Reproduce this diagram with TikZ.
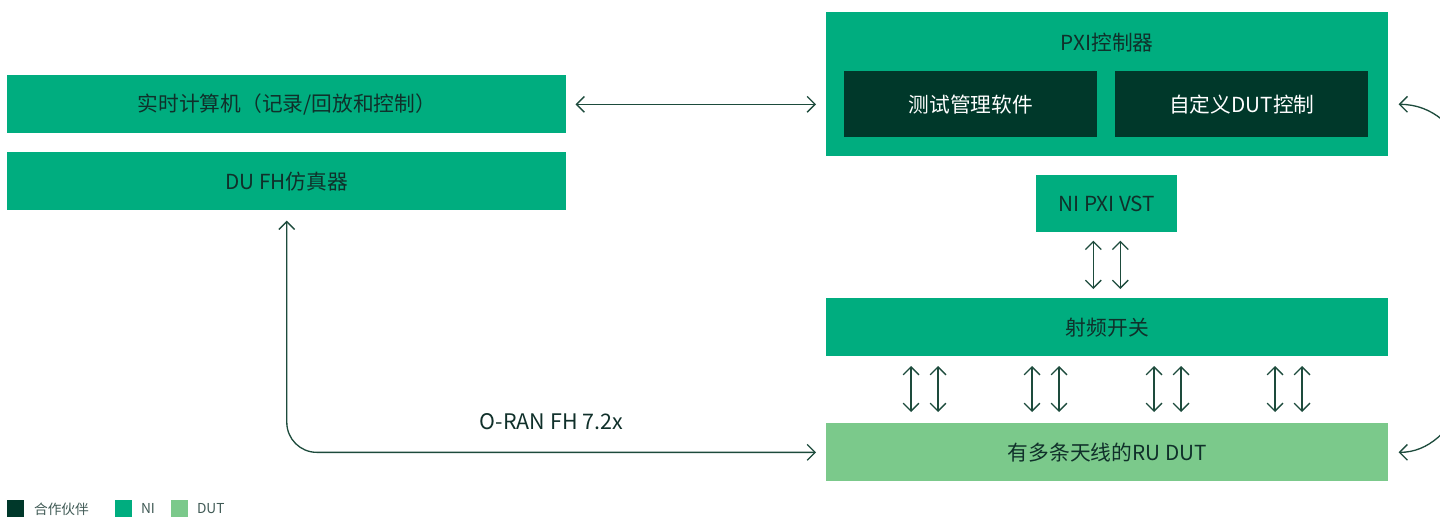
\documentclass[tikz,border=0pt]{standalone}
\usepackage{fontspec}
\setmainfont{Noto Sans CJK SC}
\usetikzlibrary{arrows.meta,positioning,calc}
\definecolor{cni}{HTML}{00AD7F}
\definecolor{cpartner}{HTML}{00382A}
\definecolor{cdut}{HTML}{7BC98B}
\definecolor{cline}{HTML}{1D4B3C}
\definecolor{ctext}{HTML}{10302A}
\tikzset{
  box/.style={anchor=north west,inner sep=0pt,align=center,text=ctext,
    font=\fontsize{11.8}{14}\selectfont},
  dbl/.style={{Straight Barb[length=4.5pt,width=9pt]}-{Straight Barb[length=4.5pt,width=9pt]},
    draw=cline,line width=0.75pt},
  >=Stealth
}
\begin{document}
\begin{tikzpicture}[x=0.02cm,y=-0.02cm,
      b/.style={box,fill=cni,minimum width=11.18cm,minimum height=1.16cm},
      p/.style={box,fill=cpartner,text=white,minimum width=5.06cm,minimum height=1.32cm},
      key/.style={minimum size=0.34cm,inner sep=0pt,anchor=north west}]
    \useasboundingbox (0,0) rectangle (1440,518);
    \node[b] (comp) at (7,75) {实时计算机（记录/回放和控制）};
    \node[b] (duemu) at (7,152) {DU FH仿真器};
    \node[b,minimum width=11.24cm,minimum height=2.88cm] (pxi) at (826,12) {};
    \node[box] at ($(pxi.north)+(0,31)$) [anchor=center] {PXI控制器};
    \node[p] (tms) at (844,71) {测试管理软件};
    \node[p] (dutctl) at (1115,71) {自定义DUT控制};
    \node[box,fill=cni,minimum width=2.82cm,minimum height=1.14cm] (vst) at (1036,175) {NI PXI VST};
    \node[b,minimum width=11.24cm] (rfsw) at (826,298) {射频开关};
    \node[b,fill=cdut,minimum width=11.24cm] (rudut) at (826,423) {有多条天线的RU DUT};
    % connectors
    \draw[dbl] ([xshift=0.18cm]comp.east) -- ([xshift=-0.2cm]comp.east -| pxi.west);
    \foreach \dx in {-13.5,13.5}
      \draw[dbl] ([xshift=\dx*0.02cm,yshift=-0.16cm]vst.south) -- ([xshift=\dx*0.02cm,yshift=0.18cm]vst.south |- rfsw.north);
    \foreach \x in {911,938,1032,1059,1154,1181,1275,1302}
      \draw[dbl] (\x,366) -- (\x,412);
    \draw[dbl,rounded corners=0.6cm] ([yshift=-0.2cm]duemu.south) |- ([xshift=-0.2cm]rudut.west)
      node[pos=0.75,above=0.32cm,text=ctext,font=\fontsize{12.2}{14}\selectfont] (fh) {O-RAN FH 7.2x};
    \draw[dbl] ([xshift=0.2cm]pxi.east |- tms.east) .. controls +(2.6cm,0) and +(2.3cm,0) .. ([xshift=0.2cm]rudut.east);
    % legend
    \node[key,fill=cpartner] (k1) at (7,500) {};
    \node[right=0.18cm of k1,inner sep=0pt,text=ctext!80,font=\fontsize{7.8}{9}\selectfont] (l1) {合作伙伴};
    \node[key,fill=cni] (k2) at (115,500) {};
    \node[right=0.16cm of k2,inner sep=0pt,text=ctext!80,font=\fontsize{7.8}{9}\selectfont] (l2) {NI};
    \node[key,fill=cdut] (k3) at (171,500) {};
    \node[right=0.16cm of k3,inner sep=0pt,text=ctext!80,font=\fontsize{7.8}{9}\selectfont] (l3) {DUT};
  \end{tikzpicture}
\end{document}
